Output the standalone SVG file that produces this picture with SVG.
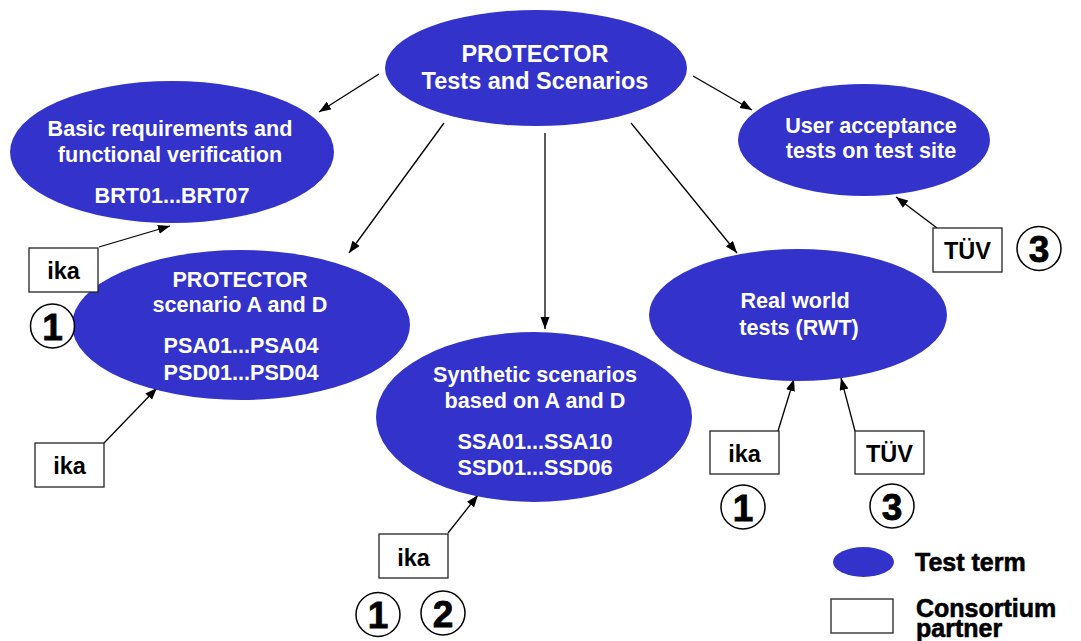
<svg xmlns="http://www.w3.org/2000/svg" width="1081" height="641" viewBox="0 0 1081 641">
<defs>
<marker id="ah" markerWidth="13" markerHeight="10" refX="12" refY="4.5" orient="auto" markerUnits="userSpaceOnUse">
<path d="M0,0 L12,4.5 L0,9 z" fill="#000"/>
</marker>
<style>
.term{fill:#3333cc;}
.tt{font-family:"Liberation Sans",Arial,sans-serif;font-weight:bold;fill:#fff;font-size:21.6px;text-anchor:middle;}
.box{fill:#fff;stroke:#222;stroke-width:1.3;}
.bt{font-family:"Liberation Sans",Arial,sans-serif;font-weight:bold;fill:#000;font-size:23.5px;text-anchor:middle;}
.circ{fill:#fff;stroke:#000;stroke-width:1.5;}
.num{font-family:"Liberation Sans",Arial,sans-serif;font-weight:bold;fill:#000;font-size:37px;text-anchor:middle;stroke:#000;stroke-width:0.8;}
.lg{font-family:"Liberation Sans",Arial,sans-serif;font-weight:bold;fill:#000;font-size:25px;stroke:#000;stroke-width:0.6;}
.conn{stroke:#000;stroke-width:1.3;fill:none;marker-end:url(#ah);}
</style>
</defs>
<rect width="1081" height="641" fill="#fff"/>

<g id="connectors">
<line class="conn" x1="379" y1="74" x2="319" y2="112"/>
<line class="conn" x1="444" y1="123" x2="349" y2="253"/>
<line class="conn" x1="545" y1="133" x2="545" y2="329"/>
<line class="conn" x1="693" y1="76" x2="752" y2="110"/>
<line class="conn" x1="631" y1="123" x2="737" y2="253"/>
<line class="conn" x1="99" y1="247" x2="170" y2="226"/>
<line class="conn" x1="104" y1="443" x2="157" y2="388"/>
<line class="conn" x1="448" y1="533" x2="478" y2="495"/>
<line class="conn" x1="778" y1="431" x2="794" y2="379"/>
<line class="conn" x1="855" y1="431" x2="841" y2="378"/>
<line class="conn" x1="937" y1="228" x2="896" y2="197"/>
</g>

<g id="n-central">
<ellipse class="term" cx="536" cy="68" rx="151" ry="58"/>
<text class="tt" style="font-size:23.5px" x="535" y="62">PROTECTOR</text>
<text class="tt" style="font-size:23.5px" x="535" y="89">Tests and Scenarios</text>
</g>

<g id="n-basic">
<ellipse class="term" cx="172" cy="152" rx="162" ry="71"/>
<text class="tt" x="170" y="136">Basic requirements and</text>
<text class="tt" x="170" y="162">functional verification</text>
<text class="tt" x="172" y="203">BRT01...BRT07</text>
</g>

<g id="n-user">
<ellipse class="term" cx="864" cy="140" rx="126" ry="56"/>
<text class="tt" x="871" y="133">User acceptance</text>
<text class="tt" x="871" y="158">tests on test site</text>
</g>

<g id="n-scenAD">
<ellipse class="term" cx="241" cy="325" rx="169" ry="75"/>
<text class="tt" x="240" y="287">PROTECTOR</text>
<text class="tt" x="240" y="312">scenario A and D</text>
<text class="tt" x="241" y="353">PSA01...PSA04</text>
<text class="tt" x="241" y="380">PSD01...PSD04</text>
</g>

<g id="n-synth">
<ellipse class="term" cx="534" cy="417" rx="158" ry="85"/>
<text class="tt" x="535" y="382">Synthetic scenarios</text>
<text class="tt" x="535" y="408">based on A and D</text>
<text class="tt" x="535" y="449">SSA01...SSA10</text>
<text class="tt" x="535" y="475">SSD01...SSD06</text>
</g>

<g id="n-rwt">
<ellipse class="term" cx="798" cy="315" rx="149" ry="66"/>
<text class="tt" x="795" y="308">Real world</text>
<text class="tt" x="799" y="335">tests (RWT)</text>
</g>

<g id="p-ika1">
<rect class="box" x="29" y="248" width="69" height="44"/>
<text class="bt" x="63.5" y="279">ika</text>
<circle class="circ" cx="52.5" cy="326" r="22"/>
<text class="num" x="52.5" y="340">1</text>
</g>

<g id="p-ika2">
<rect class="box" x="35" y="443" width="69" height="44"/>
<text class="bt" x="69.5" y="474">ika</text>
</g>

<g id="p-ika3">
<rect class="box" x="379" y="534" width="69" height="44"/>
<text class="bt" x="413.5" y="566">ika</text>
<circle class="circ" cx="378" cy="614.5" r="22"/>
<text class="num" x="378" y="628">1</text>
<circle class="circ" cx="443" cy="613" r="22"/>
<text class="num" x="443" y="627">2</text>
</g>

<g id="p-ika4">
<rect class="box" x="710" y="431" width="69" height="43"/>
<text class="bt" x="744.5" y="462">ika</text>
<circle class="circ" cx="743" cy="507" r="22"/>
<text class="num" x="743" y="521">1</text>
</g>

<g id="p-tuv1">
<rect class="box" x="855" y="431" width="69" height="43"/>
<text class="bt" x="889.5" y="462">TÜV</text>
<circle class="circ" cx="892" cy="506" r="22"/>
<text class="num" x="892" y="520">3</text>
</g>

<g id="p-tuv2">
<rect class="box" x="933" y="228" width="69" height="44"/>
<text class="bt" x="967.5" y="259">TÜV</text>
<circle class="circ" cx="1039" cy="248.5" r="22"/>
<text class="num" x="1039" y="262">3</text>
</g>

<g id="legend">
<ellipse class="term" cx="863.5" cy="562" rx="30.5" ry="15"/>
<text class="lg" x="915" y="571">Test term</text>
<rect class="box" x="831" y="599" width="62" height="34"/>
<text class="lg" x="916" y="617">Consortium</text>
<text class="lg" x="916" y="637">partner</text>
</g>
</svg>
